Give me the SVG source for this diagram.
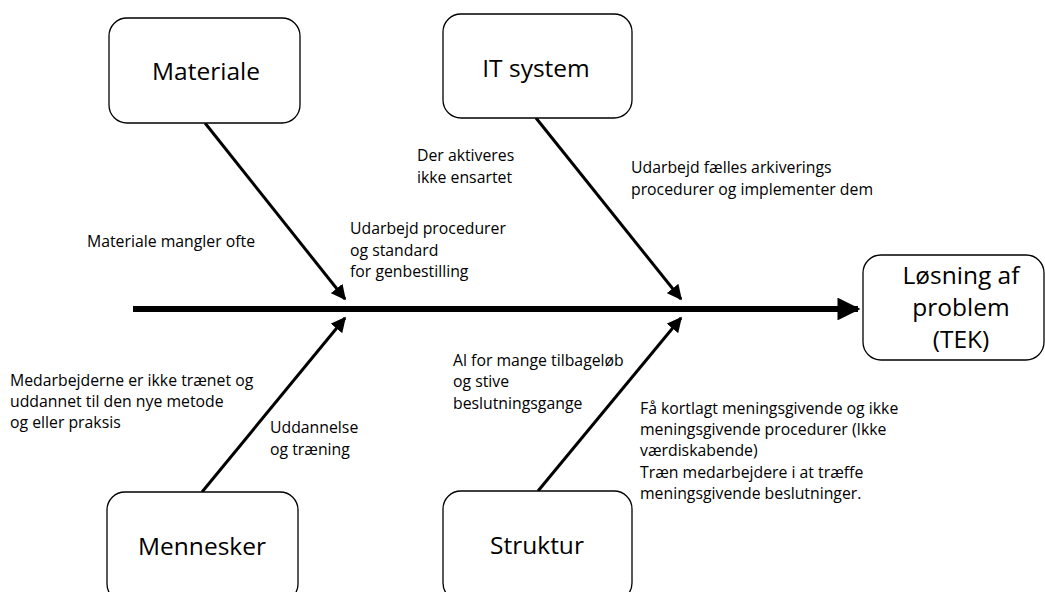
<svg xmlns="http://www.w3.org/2000/svg" width="1045" height="592" viewBox="0 0 1045 592">
<style>
.box{fill:#fff;stroke:#000;stroke-width:1.3}
.title{font-family:"Open Sans","Liberation Sans",sans-serif;font-size:24.5px;fill:#000;text-anchor:middle}
.lbl{font-family:"Open Sans","Liberation Sans",sans-serif;font-size:15.8px;fill:#000}
.bone{stroke:#000;stroke-width:3;fill:none}
.spine{stroke:#000;stroke-width:6;fill:none}
</style>
<defs>
<marker id="ah" viewBox="0 0 10 10" refX="9" refY="5" markerWidth="5" markerHeight="5" orient="auto" markerUnits="strokeWidth">
<path d="M0,0 L10,5 L0,10 z" fill="#000"/>
</marker>
<marker id="ahs" viewBox="0 0 10 10" refX="9" refY="5" markerWidth="3.8" markerHeight="3.8" orient="auto" markerUnits="strokeWidth">
<path d="M0,0 L10,5 L0,10 z" fill="#000"/>
</marker>
</defs>
<g id="connectors">
<line class="spine" x1="133" y1="309" x2="858" y2="309" marker-end="url(#ahs)"/>
<line class="bone" x1="205" y1="123" x2="345" y2="299" marker-end="url(#ah)"/>
<line class="bone" x1="536" y1="118" x2="681" y2="299" marker-end="url(#ah)"/>
<line class="bone" x1="202" y1="492" x2="345" y2="318" marker-end="url(#ah)"/>
<line class="bone" x1="538" y1="491" x2="681" y2="318" marker-end="url(#ah)"/>
</g>
<g id="materiale">
<rect class="box" x="109" y="18" width="191" height="105" rx="18"/>
<text class="title" x="206" y="80">Materiale</text>
</g>
<g id="it-system">
<rect class="box" x="443" y="14" width="189" height="104" rx="18"/>
<text class="title" x="536" y="77">IT system</text>
</g>
<g id="mennesker">
<rect class="box" x="107" y="492" width="191" height="110" rx="18"/>
<text class="title" x="202" y="555">Mennesker</text>
</g>
<g id="struktur">
<rect class="box" x="443" y="491" width="189" height="110" rx="18"/>
<text class="title" x="537" y="554">Struktur</text>
</g>
<g id="losning">
<rect class="box" x="863" y="255" width="181" height="105" rx="18"/>
<text class="title" x="961" y="284">Løsning af</text>
<text class="title" x="961" y="316">problem</text>
<text class="title" x="961" y="348">(TEK)</text>
</g>
<g id="labels">
<text class="lbl" x="87" y="247">Materiale mangler ofte</text>
<text class="lbl" x="350" y="234">Udarbejd procedurer</text>
<text class="lbl" x="350" y="256">og standard</text>
<text class="lbl" x="350" y="277">for genbestilling</text>
<text class="lbl" x="417" y="161">Der aktiveres</text>
<text class="lbl" x="417" y="183">ikke ensartet</text>
<text class="lbl" x="631" y="173">Udarbejd fælles arkiverings</text>
<text class="lbl" x="631" y="195">procedurer og implementer dem</text>
<text class="lbl" x="10" y="386">Medarbejderne er ikke trænet og</text>
<text class="lbl" x="10" y="407">uddannet til den nye metode</text>
<text class="lbl" x="10" y="428">og eller praksis</text>
<text class="lbl" x="270" y="433">Uddannelse</text>
<text class="lbl" x="270" y="455">og træning</text>
<text class="lbl" x="453" y="366">Al for mange tilbageløb</text>
<text class="lbl" x="453" y="387">og stive</text>
<text class="lbl" x="453" y="409">beslutningsgange</text>
<text class="lbl" x="640" y="414">Få kortlagt meningsgivende og ikke</text>
<text class="lbl" x="640" y="435">meningsgivende procedurer (Ikke</text>
<text class="lbl" x="640" y="456">værdiskabende)</text>
<text class="lbl" x="640" y="478">Træn medarbejdere i at træffe</text>
<text class="lbl" x="640" y="499">meningsgivende beslutninger.</text>
</g>
</svg>
